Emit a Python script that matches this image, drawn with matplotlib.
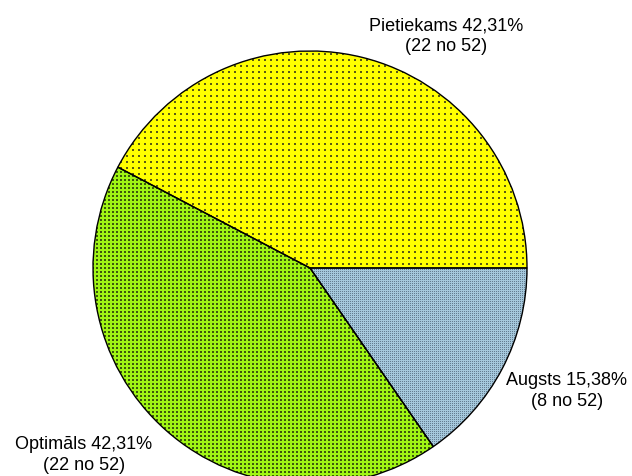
import numpy as np
import matplotlib
matplotlib.use('Agg')
import matplotlib.pyplot as plt

# slice data (in drawing order, clockwise from 3 o'clock)
categories = ['Augsts', 'Optimāls', 'Pietiekams']
counts = [8, 22, 22]
total = 52

W, H = 632, 477
fig = plt.figure(figsize=(W / 100, H / 100), dpi=100)
ax = fig.add_axes([0, 0, 1, 1])
ax.set_xlim(0, W)
ax.set_ylim(0, H)
ax.set_aspect('equal')
ax.axis('off')

center = (310, H - 269)
radius = 217

wedges, _ = ax.pie(counts, startangle=0, counterclock=False, center=center,
                   radius=radius, colors=['none'] * 3,
                   wedgeprops=dict(edgecolor='black', linewidth=1.0))
ax.set_xlim(0, W)
ax.set_ylim(0, H)


def pattern(base, dot, step, size):
    img = np.empty((H, W, 3), dtype=float)
    img[:] = np.array(base) / 255
    yy, xx = np.mgrid[0:H, 0:W]
    mask = (xx % step < size) & (yy % step < size)
    img[mask] = np.array(dot) / 255
    return img


patterns = {
    'Augsts': pattern((165, 200, 220), (100, 125, 145), 2, 1),
    'Optimāls': pattern((160, 245, 20), (60, 90, 10), 4, 2),
    'Pietiekams': pattern((255, 255, 0), (90, 90, 20), 6, 2),
}

for name, w in zip(categories, wedges):
    im = ax.imshow(patterns[name], extent=(0, W, 0, H), origin='upper',
                   interpolation='nearest', zorder=0.5)
    im.set_clip_path(w)
    w.set_zorder(1)

# labels
label_pos = {
    'Pietiekams': (446, 36),
    'Augsts': (567, 391),
    'Optimāls': (84, 455),
}
for name, n in zip(categories, counts):
    pct = f'{n / total * 100:.2f}'.replace('.', ',')
    x, y = label_pos[name]
    ax.text(x, H - y, f'{name} {pct}%\n({n} no {total})', ha='center',
            va='center', fontsize=13, family='Liberation Sans',
            linespacing=1.3, zorder=3)

fig.savefig('out.png', dpi=100)
